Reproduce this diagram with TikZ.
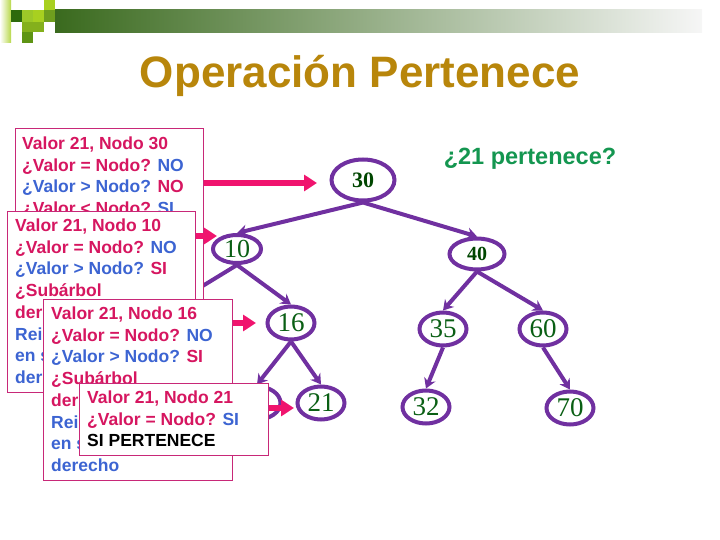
\documentclass[tikz,border=0pt]{standalone}
\usepackage{fontspec}
\setmainfont{Liberation Serif}
\setsansfont{Liberation Sans}
\usetikzlibrary{arrows.meta,shapes.geometric}
\definecolor{morado}{RGB}{112,48,160}
\definecolor{verdenum}{RGB}{10,95,20}
\definecolor{verdeosc}{RGB}{0,70,0}
\definecolor{rosa}{RGB}{214,22,96}
\definecolor{azul}{RGB}{60,100,210}
\definecolor{bordecaja}{RGB}{200,40,120}
\definecolor{rosaflecha}{RGB}{240,20,110}
\definecolor{oro}{RGB}{184,134,11}
\definecolor{verdepreg}{RGB}{20,150,80}
% cabecera
\definecolor{lima}{RGB}{184,216,74}
\definecolor{cuadA}{RGB}{45,106,12}
\definecolor{cuadB}{RGB}{156,200,40}
\definecolor{cuadC}{RGB}{168,208,32}
\definecolor{cuadD}{RGB}{111,158,30}
\definecolor{cuadE}{RGB}{132,176,28}
\definecolor{cuadF}{RGB}{94,148,20}
\definecolor{barra}{RGB}{58,106,30}
\definecolor{barrafin}{RGB}{246,246,246}
\newcommand{\az}[1]{\textcolor{azul}{#1}}
\tikzset{
	nodo/.style = {ellipse, draw=morado, line width=4pt, fill=white, inner sep=0pt,
		minimum width=47pt, minimum height=33pt, text=verdenum,
		font=\fontsize{27}{27}\selectfont},
	nodob/.style = {nodo, text=verdeosc, font=\bfseries\fontsize{21}{21}\selectfont},
	caja/.style = {rectangle, draw=bordecaja, line width=1pt, fill=white,
		anchor=north west, inner sep=0pt},
	texto/.style = {anchor=north west, align=left, inner sep=0pt, text=rosa,
		font=\sffamily\bfseries\fontsize{17.5}{21.7}\selectfont},
	rama/.style = {draw=morado, line width=4pt, -{Stealth[length=10pt,width=12pt]}},
	flecha/.style = {draw=rosaflecha, line width=5.5pt, -{Triangle[length=13pt,width=16pt]}}
}
\begin{document}
\begin{tikzpicture}[x=1pt,y=-1pt]
\useasboundingbox (0,0) rectangle (720,540);
% cabecera
\shade[left color=white, right color=lima] (0,0) rectangle (11,43);
\fill[cuadA] (11,10) rectangle (22,22);
\fill[cuadB] (22,10) rectangle (33,22);
\fill[cuadC] (33,10) rectangle (44,22);
\fill[cuadC] (44,0) rectangle (55,10);
\fill[cuadD] (44,10) rectangle (55,22);
\fill[cuadE] (22,22) rectangle (44,32);
\fill[cuadF] (22,32) rectangle (33,43);
\shade[left color=barra, right color=barrafin] (55,10) rectangle (702,33);
\node (titulo) at (360,76) {\sffamily\bfseries\fontsize{44}{44}\selectfont\textcolor{oro}{Operación Pertenece}};
\node (pregunta) at (530,159) {\sffamily\bfseries\fontsize{23.5}{23.5}\selectfont\textcolor{verdepreg}{¿21 pertenece?}};

% arbol
\node (n30) [nodob, minimum width=63pt, minimum height=41pt, font=\bfseries\fontsize{22}{22}\selectfont] at (363,180) {30};
\node (n10) [nodo, minimum width=48pt, minimum height=28pt, font=\fontsize{26}{26}\selectfont] at (237,249) {10};
\node (n40) [nodob, minimum width=55pt, minimum height=31pt, font=\bfseries\fontsize{20}{20}\selectfont] at (477,254) {40};
\node (n16) [nodo] at (291,323) {16};
\node (n35) [nodo] at (443,329) {35};
\node (n60) [nodo] at (543,329) {60};
\node (n16i) [nodo] at (257,403) {};
\node (n21) [nodo] at (321,403) {21};
\node (n32) [nodo] at (426,407) {32};
\node (n70) [nodo] at (570,408) {70};
\coordinate (n10i) at (160,312);

\draw[rama] (n30.south) -- (n10.north);
\draw[rama] (n30.south) -- (n40.north);
\draw[rama] (n10.south) -- (n10i);
\draw[rama] (n10.south) -- (n16.north);
\draw[rama] (n16.south) -- (n16i.north);
\draw[rama] (n16.south) -- (n21.north);
\draw[rama] (n40.south) -- (n35.north);
\draw[rama] (n40.south) -- (n60.north);
\draw[rama] (n35.south) -- (n32.north);
\draw[rama] (n60.south) -- (n70.north);

% cajas de busqueda
\node (b1) [caja, minimum width=188pt, minimum height=262pt] at (15,128) {};
\node (t1) [texto] at ([shift={(7pt,-8.7pt)}]b1.north west) {Valor 21, Nodo 30\\
	¿Valor = Nodo? \az{NO}\\
	\az{¿Valor > Nodo?} NO\\
	¿Valor < Nodo? \az{SI}};
\coordinate (p1) at (317,183);
\draw[flecha] (b1.east |- p1) -- (p1);

\node (b2) [caja, minimum width=188pt, minimum height=181pt] at (7,211) {};
\node (t2) [texto] at ([shift={(8pt,-7.7pt)}]b2.north west) {Valor 21, Nodo 10\\
	¿Valor = Nodo? \az{NO}\\
	\az{¿Valor > Nodo?} SI\\
	¿Subárbol\\
	der\\
	\az{Rei}\\
	\az{en s}\\
	\az{der}};
\coordinate (p2) at (217,236);
\draw[flecha] (b2.east |- p2) -- (p2);

\node (b3) [caja, minimum width=189pt, minimum height=181pt] at (43,299) {};
\node (t3) [texto] at ([shift={(8pt,-7.7pt)}]b3.north west) {Valor 21, Nodo 16\\
	¿Valor = Nodo? \az{NO}\\
	\az{¿Valor > Nodo?} SI\\
	¿Subárbol\\
	der\\
	\az{Rei}\\
	\az{en s}\\
	\az{derecho}};
\coordinate (p3) at (256,323);
\draw[flecha] (b3.east |- p3) -- (p3);

\node (b4) [caja, minimum width=189pt, minimum height=72pt] at (79,383) {};
\node (t4) [texto] at ([shift={(8pt,-7.7pt)}]b4.north west) {Valor 21, Nodo 21\\
	¿Valor = Nodo? \az{SI}\\
	\textcolor{black}{SI PERTENECE}};
\coordinate (p4) at (294,408);
\draw[flecha] (b4.east |- p4) -- (p4);
\end{tikzpicture}
\end{document}
